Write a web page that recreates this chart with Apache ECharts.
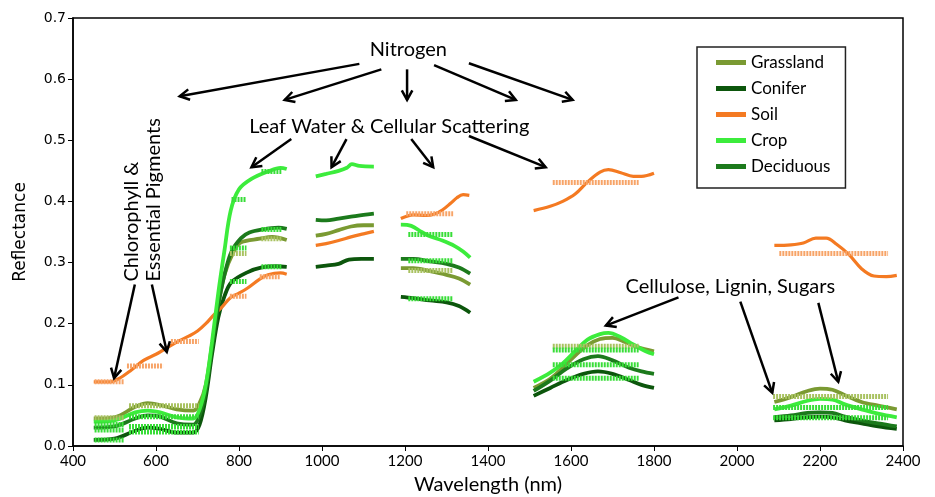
<!DOCTYPE html>
<html><head><meta charset="utf-8">
<script src="https://cdn.jsdelivr.net/npm/echarts@6/dist/echarts.min.js"></script>
<style>html,body{margin:0;padding:0;background:#fff}#c{width:935px;height:497px}</style>
</head><body><div id="c"></div>
<script>
// ---- data (wavelength nm, reflectance); null = gap between spectral segments ----
const grassland = [[450,0.045],[500,0.047],[550,0.064],[580,0.070],[610,0.067],[650,0.060],[690,0.058],[705,0.070],[720,0.100],[735,0.165],[750,0.230],[765,0.280],[787,0.318],[805,0.333],[850,0.339],[880,0.342],[915,0.337],
  null,[985,0.344],[1010,0.347],[1040,0.353],[1070,0.359],[1100,0.361],[1125,0.361],
  null,[1190,0.291],[1220,0.291],[1260,0.286],[1300,0.280],[1330,0.274],[1357,0.264],
  null,[1510,0.095],[1550,0.110],[1580,0.128],[1610,0.148],[1640,0.165],[1670,0.175],[1700,0.177],[1730,0.170],[1760,0.162],[1800,0.155],
  null,[2090,0.072],[2130,0.080],[2170,0.090],[2200,0.094],[2230,0.092],[2260,0.083],[2300,0.072],[2340,0.066],[2385,0.060]];
const conifer = [[450,0.010],[500,0.012],[550,0.025],[580,0.030],[610,0.028],[650,0.022],[690,0.022],[705,0.035],[720,0.080],[735,0.150],[750,0.210],[765,0.245],[782,0.268],[820,0.284],[855,0.292],[890,0.294],[915,0.293],
  null,[985,0.293],[1010,0.295],[1040,0.298],[1065,0.305],[1095,0.306],[1125,0.306],
  null,[1190,0.244],[1220,0.242],[1260,0.238],[1300,0.235],[1330,0.229],[1357,0.218],
  null,[1510,0.082],[1550,0.095],[1590,0.108],[1630,0.118],[1665,0.122],[1700,0.118],[1740,0.108],[1770,0.100],[1800,0.095],
  null,[2090,0.042],[2130,0.044],[2170,0.047],[2200,0.048],[2230,0.047],[2260,0.042],[2300,0.037],[2340,0.032],[2385,0.028]];
const soil = [[450,0.105],[490,0.105],[510,0.110],[540,0.124],[570,0.140],[600,0.150],[620,0.158],[650,0.170],[680,0.180],[700,0.188],[720,0.200],[740,0.215],[760,0.228],[780,0.243],[800,0.250],[820,0.258],[850,0.273],[870,0.280],[900,0.283],[915,0.281],
  null,[985,0.328],[1010,0.331],[1040,0.336],[1070,0.342],[1100,0.347],[1125,0.351],
  null,[1190,0.372],[1220,0.378],[1250,0.377],[1270,0.379],[1290,0.386],[1310,0.397],[1325,0.406],[1340,0.411],[1355,0.410],
  null,[1510,0.385],[1550,0.392],[1580,0.400],[1610,0.412],[1640,0.432],[1670,0.448],[1690,0.452],[1720,0.447],[1750,0.441],[1770,0.441],[1800,0.446],
  null,[2090,0.328],[2130,0.329],[2160,0.332],[2190,0.340],[2215,0.340],[2240,0.330],[2270,0.313],[2300,0.290],[2330,0.278],[2360,0.277],[2385,0.279]];
const crop = [[450,0.040],[500,0.042],[550,0.055],[580,0.058],[610,0.055],[650,0.047],[690,0.045],[705,0.060],[720,0.100],[735,0.170],[750,0.250],[765,0.320],[780,0.385],[800,0.420],[830,0.437],[870,0.449],[900,0.455],[915,0.453],
  null,[985,0.441],[1010,0.445],[1040,0.450],[1060,0.455],[1072,0.461],[1090,0.458],[1125,0.457],
  null,[1190,0.362],[1215,0.360],[1240,0.350],[1260,0.343],[1290,0.336],[1320,0.327],[1340,0.318],[1357,0.308],
  null,[1510,0.105],[1550,0.120],[1580,0.135],[1610,0.155],[1640,0.174],[1670,0.183],[1690,0.185],[1720,0.178],[1750,0.166],[1780,0.155],[1800,0.150],
  null,[2090,0.060],[2130,0.066],[2170,0.074],[2200,0.077],[2230,0.076],[2260,0.068],[2300,0.060],[2340,0.053],[2385,0.047]];
const deciduous = [[450,0.030],[500,0.032],[550,0.045],[580,0.050],[610,0.048],[650,0.037],[690,0.035],[705,0.050],[720,0.090],[735,0.160],[750,0.230],[765,0.280],[782,0.318],[805,0.340],[825,0.349],[855,0.354],[895,0.357],[915,0.355],
  null,[985,0.370],[1010,0.369],[1040,0.372],[1070,0.375],[1100,0.378],[1125,0.380],
  null,[1190,0.306],[1220,0.306],[1260,0.302],[1300,0.298],[1330,0.292],[1357,0.282],
  null,[1510,0.090],[1550,0.107],[1590,0.127],[1630,0.142],[1665,0.147],[1700,0.140],[1740,0.128],[1770,0.122],[1800,0.118],
  null,[2090,0.047],[2130,0.050],[2170,0.054],[2200,0.055],[2230,0.054],[2260,0.048],[2300,0.042],[2340,0.037],[2385,0.032]];

// sensor bands: [start nm, end nm, reflectance]
const soilBands = [[452,522,0.105],[530,617,0.131],[636,703,0.171],[778,818,0.245],[850,898,0.277],[1203,1316,0.380],[1556,1763,0.431],[2102,2364,0.315]];
const grassBands = [[452,522,0.046],[535,703,0.066],[778,818,0.315],[854,902,0.339],[1208,1316,0.287],[1556,1763,0.163],[2087,2364,0.081]];
const cropBands = [[452,522,0.035],[452,522,0.026],[452,522,0.010],[535,703,0.048],[535,703,0.032],[535,703,0.023],
  [782,818,0.403],[854,902,0.449],[854,902,0.354],[778,818,0.324],[778,818,0.269],[854,902,0.293],
  [1208,1316,0.346],[1208,1316,0.303],[1208,1316,0.241],
  [1556,1763,0.157],[1556,1763,0.133],[1556,1763,0.111],
  [2087,2364,0.063],[2087,2364,0.046]];

const xTicks = [400,600,800,1000,1200,1400,1600,1800,2000,2200,2400];
const yTicks = [0,0.1,0.2,0.3,0.4,0.5,0.6,0.7];

// annotations (data coordinates)
const labels = [
  {text:'Nitrogen', at:[1208,0.648]},
  {text:'Leaf Water & Cellular Scattering', at:[1162,0.523]},
  {text:'Cellulose, Lignin, Sugars', at:[1984,0.261]}
];
const vLabels = [
  {text:'Chlorophyll &', at:[540,0.269]},
  {text:'Essential Pigments', at:[595,0.269]}
];
const arrows = [
  [1090,0.625,657,0.572],[1143,0.616,910,0.566],[1205,0.616,1205,0.566],[1270,0.623,1467,0.566],[1354,0.626,1604,0.566],
  [926,0.502,830,0.456],[1059,0.502,1023,0.456],[1215,0.502,1268,0.456],[1354,0.507,1539,0.456],
  [549,0.264,499,0.111],[590,0.264,626,0.154],
  [1859,0.243,1684,0.197],[2008,0.236,2085,0.087],[2196,0.234,2244,0.105]
];

const names = ['Grassland','Conifer','Soil','Crop','Deciduous'];
const colors = {'Grassland':'#7a9a32','Conifer':'#0c560c','Soil':'#f47a22','Crop':'#3cec3c','Deciduous':'#1c7a1c'};
const sets = {'Grassland':grassland,'Conifer':conifer,'Soil':soil,'Crop':crop,'Deciduous':deciduous};

function gap(arr){ return arr.map(p => p === null ? ['-','-'] : p); }
function bandData(b){ const out=[]; b.forEach((s,i)=>{ if(i) out.push(['-','-']); out.push([s[0],s[2]],[s[1],s[2]]); }); return out; }

const series = names.map(n => ({
  name:n, type:'line', data:gap(sets[n]), smooth:0.35, showSymbol:false, symbol:'none',
  connectNulls:false, lineStyle:{color:colors[n], width:n==='Soil'?3.2:3.8}, itemStyle:{color:colors[n]},
  z: n==='Crop'?3:2, silent:true
}));
const bandSpec = [['soilB',soilBands,'#f7a468'],['grassB',grassBands,'#a9c261'],['cropB',cropBands,'#38dd38']];
bandSpec.forEach(b => series.push({
  name:b[0], type:'line', data:bandData(b[1]), showSymbol:false, symbol:'none', connectNulls:false,
  lineStyle:{color:b[2], width:5, type:[2,1], cap:'butt'}, z:5, silent:true
}));

const chart = echarts.init(document.getElementById('c'));
chart.setOption({
  animation:false,
  grid:{left:73,right:32,top:18,bottom:51,show:true,borderColor:'#000',borderWidth:1.5,containLabel:false,outerBoundsMode:'none'},
  legend:{data:names, orient:'vertical', left:697, top:47, padding:[7,15,13,19], itemGap:9,
    itemWidth:30, itemHeight:5, icon:'rect', borderColor:'#222', borderWidth:1.5, backgroundColor:'#fff',
    textStyle:{fontFamily:'Lato', fontSize:17, color:'#000', lineHeight:17}},
  xAxis:{type:'value', min:400, max:2400, interval:200, name:'Wavelength (nm)', nameLocation:'middle', nameGap:29,
    nameTextStyle:{fontFamily:'Lato', fontSize:20, color:'#000'},
    axisLine:{lineStyle:{color:'#000', width:1.5}}, axisTick:{length:5, lineStyle:{color:'#000'}},
    axisLabel:{fontFamily:'Lato', fontSize:15, color:'#000', margin:8, formatter:v=>xTicks.includes(v)?String(v):''},
    splitLine:{show:false}},
  yAxis:{type:'value', min:0, max:0.7, interval:0.1, name:'Reflectance', nameLocation:'middle', nameGap:44,
    nameTextStyle:{fontFamily:'DejaVu Sans', fontSize:17, color:'#000'},
    axisLine:{lineStyle:{color:'#000', width:1.5}}, axisTick:{length:5, lineStyle:{color:'#000'}},
    axisLabel:{fontFamily:'DejaVu Sans', fontSize:14, color:'#000', margin:7, formatter:v=>v.toFixed(1)},
    splitLine:{show:false}},
  series:series
});

function P(p){ return chart.convertToPixel({gridIndex:0}, p); }
const g = [];
labels.forEach(l => { const p=P(l.at); g.push({type:'text', x:p[0], y:p[1], z:50,
  style:{text:l.text, font:'20px Lato', fill:'#000', align:'center', verticalAlign:'middle'}}); });
vLabels.forEach(l => { const p=P(l.at); g.push({type:'text', x:p[0], y:p[1], rotation:Math.PI/2, z:50,
  style:{text:l.text, font:'20px Lato', fill:'#000', align:'left', verticalAlign:'middle'}}); });
arrows.forEach(a => {
  const p1=P([a[0],a[1]]), p2=P([a[2],a[3]]);
  const ang=Math.atan2(p2[1]-p1[1], p2[0]-p1[0]), L=11, s=0.5;
  const l1=[p2[0]-L*Math.cos(ang-s), p2[1]-L*Math.sin(ang-s)];
  const r1=[p2[0]-L*Math.cos(ang+s), p2[1]-L*Math.sin(ang+s)];
  g.push({type:'line', z:50, shape:{x1:p1[0],y1:p1[1],x2:p2[0],y2:p2[1]}, style:{stroke:'#000', lineWidth:2.5}});
  g.push({type:'polyline', z:50, shape:{points:[l1,p2,r1]}, style:{stroke:'#000', lineWidth:2.5, fill:null, lineJoin:'miter'}});
});
chart.setOption({graphic:{elements:g}});
</script></body></html>
